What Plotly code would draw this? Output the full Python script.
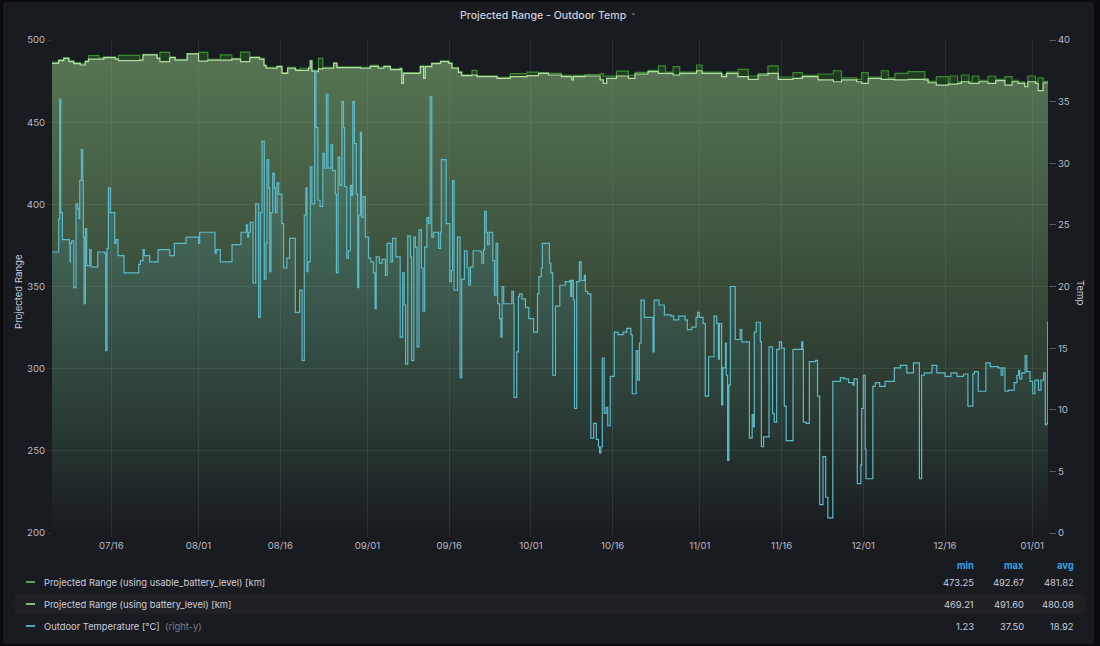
import pandas as pd
import plotly.graph_objects as go

BASE = pd.Timestamp("2020-07-01")

# ---------------- data (days since 2020-07-01) ----------------
range_days = [4.1, 5.3, 6.25, 7.2, 8.1, 9.3, 10.2, 10.8, 12.7, 13.6, 15.7, 16.3, 20.2, 20.8, 23.4, 23.9,
              25.7, 26.7, 28.9, 31.0, 32.7, 35.0, 37.1, 38.7, 40.4, 42.2, 43.0, 43.4, 45.4, 46.3, 47.35,
              48.8, 49.6, 51.2, 51.5, 51.8, 52.4, 53.0, 53.8, 55.8, 56.4, 58.8, 60.7, 62.5, 64.0, 65.0,
              66.2, 68.0, 68.3, 68.6, 70.2, 71.7, 72.3, 72.6, 73.8, 75.4, 76.9, 77.5, 78.7, 79.3, 81.2,
              82.1, 84.5, 85.8, 88.2, 91.3, 93.4, 95.2, 97.6, 99.5, 99.8, 101.9, 104.7, 105.3, 105.9,
              107.7, 109.9, 111.1, 113.5, 115.4, 116.7, 118.1, 119.3, 122.4, 123.4, 127.0, 127.9, 130.0,
              131.9, 133.7, 135.5, 137.4, 140.1, 141.8, 144.7, 147.5, 149.0, 151.8, 152.7, 153.9, 156.3,
              157.6, 158.8, 161.2, 164.3, 164.9, 166.4, 168.6, 168.9, 170.3, 171.0, 172.4, 173.0, 174.2,
              175.9, 177.3, 179.0, 180.3, 181.4, 182.6, 183.2, 184.6, 185.1, 186.0, 186.9]

range_battery = [485.8, 487.4, 488.8, 486.8, 485.6, 484.8, 486.8, 488.4, 488.4, 489.3, 488.4, 487.4, 487.8,
                 490.9, 488.8, 486.8, 489.3, 487.8, 491.6, 487.2, 487.8, 487.8, 488.4, 486.8, 489.3, 488.4,
                 484.4, 482.8, 483.8, 479.7, 482.8, 481.5, 481.5, 482.8, 487.2, 481.1, 480.7, 482.4, 482.8,
                 485.8, 483.2, 483.2, 482.8, 484.0, 482.8, 483.8, 482.0, 482.4, 473.6, 479.7, 479.7, 483.8,
                 476.7, 483.8, 485.6, 486.8, 485.8, 482.8, 480.3, 478.3, 478.7, 477.7, 477.7, 476.7, 477.7,
                 478.3, 479.7, 478.7, 477.7, 475.7, 477.7, 478.1, 475.7, 473.6, 476.7, 478.1, 476.7, 479.3,
                 480.7, 479.7, 479.7, 478.7, 479.7, 481.3, 479.7, 477.7, 479.7, 477.7, 476.1, 478.7, 479.7,
                 476.1, 476.7, 477.7, 475.7, 474.6, 475.7, 474.6, 473.6, 476.7, 476.1, 476.1, 475.7, 476.1,
                 475.7, 474.0, 472.6, 473.2, 473.2, 473.6, 474.6, 473.6, 473.6, 474.6, 473.6, 475.3, 472.6,
                 474.6, 473.6, 471.6, 474.6, 473.6, 469.2, 474.0, 474.0]

range_usable = [486.5, 488.0, 489.3, 487.4, 486.2, 485.5, 487.3, 490.5, 489.0, 489.8, 488.9, 490.6, 488.3,
                491.3, 489.3, 492.5, 489.8, 488.3, 491.8, 492.5, 488.3, 490.9, 488.9, 492.67, 489.8, 488.9,
                484.9, 483.3, 484.3, 480.2, 483.3, 482.0, 482.8, 483.3, 487.6, 481.6, 481.2, 488.8, 483.3,
                486.3, 483.7, 483.7, 483.3, 484.5, 483.3, 484.3, 482.5, 482.9, 474.2, 480.2, 480.2, 484.3,
                477.2, 484.3, 486.1, 487.3, 486.3, 483.3, 480.8, 478.8, 481.5, 478.2, 478.2, 477.2, 479.5,
                480.5, 480.2, 479.7, 478.5, 477.5, 478.5, 479.0, 479.5, 478.0, 478.0, 481.0, 478.5, 480.3,
                481.5, 484.2, 480.5, 483.8, 480.5, 484.8, 480.5, 478.8, 480.5, 482.1, 478.0, 479.5, 484.2,
                477.5, 480.1, 478.5, 479.3, 481.3, 477.0, 476.0, 480.1, 477.5, 481.3, 477.0, 479.7, 480.7,
                476.5, 474.8, 477.7, 474.0, 478.1, 474.5, 478.7, 474.5, 478.1, 475.5, 478.1, 476.0, 477.7,
                475.5, 474.5, 473.25, 478.1, 474.5, 477.0, 474.8, 474.8]

temp_days = [4.1, 5.33, 5.52, 5.7, 6.01, 7.29, 7.41, 7.47, 7.72, 8.09, 8.51, 8.82, 9.06, 9.19, 9.49, 9.74,
             9.86, 9.98, 10.23, 10.47, 11.02, 11.27, 12.49, 13.71, 13.96, 14.2, 14.45, 14.81, 15.61, 15.85,
             16.22, 17.32, 20.01, 20.32, 20.81, 21.05, 22.03, 23.56, 25.7, 26.56, 28.7, 31.02, 31.2, 34.02,
             34.26, 35.0, 37.14, 38.79, 39.77, 40.01, 40.2, 40.5, 41.0, 41.48, 42.03, 42.34, 42.64, 43.07,
             43.38, 43.56, 43.87, 44.05, 44.3, 44.6, 44.9, 45.1, 45.4, 45.7, 46.3, 46.6, 47.2, 47.7, 48.76,
             49.55, 50.0, 50.4, 50.7, 50.9, 51.08, 51.5, 51.8, 52.3, 52.55, 52.9, 53.3, 53.8, 54.08, 54.45,
             54.75, 55.3, 55.6, 56.1, 56.3, 56.6, 56.9, 57.3, 57.6, 57.8, 58.2, 58.5, 58.85, 59.1, 59.3,
             59.6, 59.95, 60.2, 60.4, 60.7, 60.9, 61.2, 61.6, 62.2, 62.6, 63.1, 63.4, 63.6, 64.2, 64.7,
             65.3, 65.6, 66.3, 66.6, 67.2, 68.0, 68.45, 68.76, 69.0, 69.4, 69.9, 70.1, 70.5, 70.8, 71.1,
             71.45, 71.9, 72.2, 72.5, 72.9, 73.2, 73.5, 73.8, 74.1, 75.06, 75.4, 75.55, 76.46, 77.1, 77.4,
             77.6, 77.9, 78.5, 79.0, 79.3, 79.8, 80.3, 80.6, 80.9, 81.4, 82.7, 83.0, 83.3, 83.5, 83.8,
             84.05, 84.35, 85.0, 85.3, 85.6, 85.9, 86.25, 86.5, 86.7, 87.0, 88.5, 88.8, 88.9, 89.4, 89.7,
             89.9, 90.35, 91.0, 91.6, 92.5, 93.2, 93.45, 93.9, 94.1, 95.4, 95.65, 96.0, 96.5, 97.3, 98.3,
             99.1, 99.3, 99.5, 99.8, 100.0, 100.4, 100.9, 101.2, 101.8, 102.0, 102.4, 103.0, 103.5, 104.0,
             104.4, 104.6, 104.85, 105.1, 105.45, 105.8, 106.1, 106.55, 107.3, 108.0, 108.9, 109.6, 110.35,
             110.6, 111.3, 111.6, 111.9, 112.2, 112.8, 114.4, 114.6, 115.5, 116.5, 117.7, 118.2, 119.1,
             120.3, 120.7, 121.5, 122.3, 122.6, 122.9, 123.6, 124.0, 124.6, 125.6, 126.1, 126.4, 126.6,
             127.0, 127.2, 127.7, 127.85, 128.1, 128.33, 128.6, 129.5, 130.4, 130.7, 132.1, 132.6, 132.85,
             133.0, 133.35, 134.1, 134.3, 134.7, 135.7, 136.35, 136.65, 137.1, 137.6, 138.0, 138.5, 138.85,
             140.1, 141.7, 141.9, 142.0, 142.5, 143.1, 144.2, 144.6, 145.0, 145.6, 146.1, 146.5, 147.4,
             148.8, 149.5, 150.3, 151.1, 151.3, 151.9, 152.55, 152.7, 153.0, 153.35, 153.5, 154.75, 155.2,
             156.0, 157.0, 158.7, 159.8, 161.0, 162.2, 163.3, 163.7, 164.2, 165.6, 166.5, 168.0, 169.1,
             170.2, 171.4, 172.2, 173.1, 173.4, 174.1, 175.5, 176.3, 177.8, 178.3, 178.6, 179.0, 179.6,
             180.7, 181.2, 181.5, 181.7, 182.1, 182.7, 183.0, 183.6, 184.1, 184.5, 185.15, 185.6, 186.1,
             186.4, 186.7, 186.85, 186.9]

temp_values = [22.8, 25.5, 35.2, 26.0, 23.8, 23.5, 22.0, 23.5, 23.7, 19.9, 26.7, 26.3, 25.5, 28.6, 31.1, 28.6,
               24.0, 18.6, 24.7, 21.7, 23.0, 21.6, 22.8, 22.7, 14.8, 23.1, 28.0, 26.0, 23.5, 23.8,
               22.5, 21.1, 21.8, 22.1, 23.0, 22.5, 22.0, 23.0, 22.5, 23.5, 24.0, 23.5, 24.4, 22.7,
               23.0, 22.0, 23.4, 24.4, 25.0, 24.0, 24.4, 25.2, 20.3, 26.7, 17.5, 26.0, 31.8, 20.6,
               23.5, 30.3, 28.0, 21.2, 26.0, 29.2, 28.0, 26.0, 28.4, 27.5, 25.1, 21.5, 22.3, 23.9, 17.9,
               19.7, 14.0, 25.8, 28.0, 21.2, 22.0, 29.7, 26.7, 37.5, 32.9, 27.0, 26.5, 30.8, 29.6, 35.6,
               29.6, 31.5, 29.4, 27.5, 21.1, 30.5, 28.2, 35.0, 32.9, 28.1, 22.3, 22.9, 28.2, 27.4, 35.0,
               31.6, 27.5, 19.9, 25.8, 32.5, 25.6, 27.3, 24.0, 22.3, 22.0, 21.1, 18.2, 22.4, 21.9, 22.2,
               20.9, 23.5, 22.0, 23.9, 22.4, 15.9, 21.1, 18.5, 13.7, 24.1, 22.4, 14.0, 24.0, 23.2, 15.1,
               24.6, 21.5, 18.0, 23.2, 25.6, 25.1, 35.4, 24.0, 24.4, 23.1, 24.4, 30.3, 25.1, 20.4, 21.3,
               28.6, 19.7, 24.0, 12.6, 20.6, 22.9, 21.5, 20.1, 21.6, 22.9, 22.8, 21.9, 23.0, 26.1, 24.4,
               23.4, 24.4, 22.1, 19.3, 23.5, 18.6, 17.4, 15.9, 20.0, 18.6, 19.6, 18.6, 11.0, 14.7, 19.2,
               19.4, 19.0, 18.3, 17.4, 16.3, 19.4, 20.8, 21.5, 23.5, 21.9, 21.1, 12.8, 18.4, 20.1, 20.4,
               20.5, 19.2, 20.5, 18.9, 10.1, 20.4, 22.0, 20.5, 20.9, 19.6, 19.4, 7.7, 8.9, 7.6,
               7.0, 6.5, 7.0, 14.2, 9.7, 10.2, 8.7, 12.7, 16.3, 16.1, 16.3, 16.6, 16.1,
               11.3, 14.8, 12.4, 15.4, 18.9, 17.5, 14.7, 18.9, 18.5, 17.7, 17.6, 17.3, 17.6,
               17.3, 16.5, 16.7, 17.5, 17.9, 17.5, 17.0, 11.1, 14.3, 17.6, 17.0, 14.1, 17.0,
               10.4, 13.4, 15.4, 12.8, 5.9, 12.0, 20.0, 15.7, 16.5, 15.5, 7.7, 9.6, 8.6,
               16.3, 17.1, 15.5, 7.0, 7.8, 15.1, 9.7, 9.0, 14.9, 15.5, 15.0, 10.3, 7.5,
               14.9, 15.5, 14.9, 9.0, 8.9, 13.9, 14.0, 11.1, 2.3, 6.2, 2.9, 1.23, 12.3,
               12.6, 12.5, 12.2, 12.0, 12.5, 4.0, 5.5, 10.1, 12.8, 6.8, 4.4, 11.9, 12.2,
               11.9, 12.3, 13.4, 13.6, 13.0, 13.8, 4.4, 12.8, 13.0, 13.6, 13.0, 12.7, 13.0,
               12.7, 12.9, 10.3, 12.9, 13.1, 11.5, 13.8, 13.5, 13.4, 12.8, 13.4, 11.5, 11.6,
               12.2, 12.8, 13.2, 12.5, 13.0, 14.4, 13.1, 12.3, 11.3, 12.4, 11.6, 12.4, 13.0,
               8.8, 8.9, 17.1, 15.7]

x_tick_dates = ["2020-07-16", "2020-08-01", "2020-08-16", "2020-09-01", "2020-09-16", "2020-10-01",
                "2020-10-16", "2020-11-01", "2020-11-16", "2020-12-01", "2020-12-16", "2021-01-01"]
x_tick_labels = ["07/16", "08/01", "08/16", "09/01", "09/16", "10/01",
                 "10/16", "11/01", "11/16", "12/01", "12/16", "01/01"]

series_names = ["Projected Range (using usable_battery_level) [km]",
                "Projected Range (using battery_level) [km]",
                "Outdoor Temperature [°C]"]
stat_min = ["473.25", "469.21", "1.23"]
stat_max = ["492.67", "491.60", "37.50"]
stat_avg = ["481.82", "480.08", "18.92"]

title_text = "Projected Range - Outdoor Temp"
x_start_day = 4.1
x_end_day = 186.9

# ---------------- styling ----------------
FONT = "Inter"
TXT = "#ccccdc"
TICK = "#b9bac3"
GRID = "rgba(204,204,220,0.11)"
PANEL = "#181b1f"
OUTER = "#0b0c0e"

USABLE_LINE = "#3a8a32"
BATT_LINE = "#b4dca4"
TEMP_LINE = "#5cb9c8"
LEG_COLORS = ["#56a64b", "#8ab883", "#4fa6b3"]


def to_dates(days):
    return [BASE + pd.Timedelta(days=d) for d in days]


fig = go.Figure()

fig.add_trace(go.Scatter(
    x=to_dates(range_days), y=range_usable, mode="lines", name=series_names[0],
    line=dict(shape="hv", color=USABLE_LINE, width=1.2),
    fill="tozeroy",
    fillgradient=dict(type="vertical", start=200, stop=500,
                      colorscale=[[0, "rgba(50,120,42,0)"], [1, "rgba(50,120,42,0.38)"]]),
    hoverinfo="skip", showlegend=False))

fig.add_trace(go.Scatter(
    x=to_dates(range_days), y=range_battery, mode="lines", name=series_names[1],
    line=dict(shape="hv", color=BATT_LINE, width=1.2),
    fill="tozeroy",
    fillgradient=dict(type="vertical", start=200, stop=500,
                      colorscale=[[0, "rgba(170,205,160,0)"], [1, "rgba(170,205,160,0.40)"]]),
    hoverinfo="skip", showlegend=False))

fig.add_trace(go.Scatter(
    x=to_dates(temp_days), y=temp_values, mode="lines", name=series_names[2], yaxis="y2",
    line=dict(shape="hv", color=TEMP_LINE, width=1.2),
    fill="tozeroy",
    fillgradient=dict(type="vertical", start=0, stop=40,
                      colorscale=[[0, "rgba(79,166,179,0)"], [1, "rgba(79,166,179,0.30)"]]),
    hoverinfo="skip", showlegend=False))

# plot area in pixels: left 52, right 1048, top 40, bottom 533
PL, PR, PT, PB = 52, 1048, 40, 533
PW, PH = PR - PL, PB - PT


def px(xp):
    return (xp - PL) / PW


def py(yp):
    return (PB - yp) / PH


shapes = [
    dict(type="rect", xref="paper", yref="paper", x0=px(4), x1=px(1093), y0=py(643), y1=py(3),
         fillcolor=PANEL, line=dict(color="#202226", width=1), layer="below"),
    dict(type="rect", xref="paper", yref="paper", x0=px(15), x1=px(1085), y0=py(614), y1=py(594),
         fillcolor="#1e2024", line=dict(width=0), layer="below"),
]

annotations = [
    dict(text=title_text, xref="paper", yref="paper", x=px(543), y=py(15), xanchor="center",
         yanchor="middle", showarrow=False, font=dict(family=FONT, size=10.6, color=TXT, weight=500)),
    dict(text="⌄", xref="paper", yref="paper", x=px(633), y=py(13), xanchor="center",
         yanchor="middle", showarrow=False, font=dict(family="DejaVu Sans", size=8, color="#8e8e99")),
    dict(text="Projected Range", xref="paper", yref="paper", x=px(18), y=py(292), xanchor="center",
         yanchor="middle", showarrow=False, textangle=-90, font=dict(family=FONT, size=9.6, color=TXT)),
    dict(text="Temp", xref="paper", yref="paper", x=px(1081), y=py(292), xanchor="center",
         yanchor="middle", showarrow=False, textangle=90, font=dict(family=FONT, size=9.6, color=TXT)),
]

# legend table
LEG_SIZE = 9.4
header_y = 565
col_right = [976, 1026, 1076]
for txt, cx in zip(["min", "max", "avg"], col_right):
    annotations.append(dict(text="<b>%s</b>" % txt, xref="paper", yref="paper", x=px(cx), y=py(header_y),
                            xanchor="right", yanchor="middle", showarrow=False,
                            font=dict(family=FONT, size=LEG_SIZE, color="#33a2e5")))

row_y = [582, 604, 626]
for i, ry in enumerate(row_y):
    shapes.append(dict(type="line", xref="paper", yref="paper", x0=px(26), x1=px(35), y0=py(ry), y1=py(ry),
                       line=dict(color=LEG_COLORS[i], width=2)))
    label = series_names[i]
    if i == 2:
        label = label + "  <span style='color:#7b7c85'>(right-y)</span>"
    annotations.append(dict(text=label, xref="paper", yref="paper", x=px(42), y=py(ry), xanchor="left",
                            yanchor="middle", showarrow=False, font=dict(family=FONT, size=LEG_SIZE, color=TXT)))
    for vals, cx in zip([stat_min, stat_max, stat_avg], col_right):
        annotations.append(dict(text=vals[i], xref="paper", yref="paper", x=px(cx), y=py(ry),
                                xanchor="right", yanchor="middle", showarrow=False,
                                font=dict(family=FONT, size=LEG_SIZE, color=TXT)))

TICK_SIZE = 9.6
fig.update_layout(
    width=1100, height=646,
    margin=dict(l=PL, r=1100 - PR, t=PT, b=646 - PB, autoexpand=False),
    paper_bgcolor=OUTER, plot_bgcolor=PANEL,
    font=dict(family=FONT, size=TICK_SIZE, color=TICK),
    showlegend=False,
    hovermode=False,
    xaxis=dict(type="date", range=[BASE + pd.Timedelta(days=x_start_day), BASE + pd.Timedelta(days=x_end_day)],
               tickvals=x_tick_dates, ticktext=x_tick_labels, showgrid=True, gridcolor=GRID, gridwidth=1,
               ticks="outside", ticklen=3, tickcolor=GRID, zeroline=False, showline=False,
               tickfont=dict(family=FONT, size=TICK_SIZE, color=TICK), fixedrange=True),
    yaxis=dict(range=[200, 500], dtick=50, tick0=200, showgrid=True, gridcolor=GRID, gridwidth=1,
               ticks="outside", ticklen=4, tickcolor=GRID, zeroline=False, showline=False,
               tickfont=dict(family=FONT, size=TICK_SIZE, color=TICK), fixedrange=True),
    yaxis2=dict(range=[0, 40], dtick=5, tick0=0, overlaying="y", side="right", showgrid=False,
                ticks="outside", ticklen=7, tickcolor="rgba(204,204,220,0.35)", zeroline=False, showline=False,
                tickfont=dict(family=FONT, size=TICK_SIZE, color=TICK), fixedrange=True),
    shapes=shapes,
    annotations=annotations,
)

fig.write_html(
    "out.html",
    config={"displayModeBar": False, "staticPlot": True},
    post_script="document.body.style.margin='0';document.body.style.background='#0b0c0e';"
                "document.documentElement.style.overflow='hidden';",
)
